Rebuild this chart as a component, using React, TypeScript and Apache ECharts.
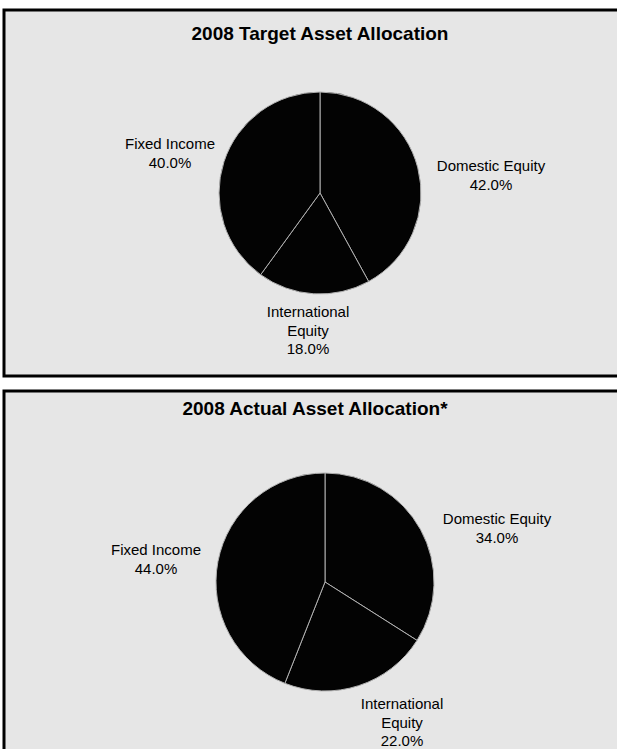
import React, { useEffect, useRef } from 'react';
import * as echarts from 'echarts';

const categories = ['Domestic Equity', 'International Equity', 'Fixed Income'];
const targetValues = [42.0, 18.0, 40.0];
const actualValues = [34.0, 22.0, 44.0];
const titles = ['2008 Target Asset Allocation', '2008 Actual Asset Allocation*'];

const targetLabelPos = [[491, 175], [308, 330], [170, 153]];
const actualLabelPos = [[497, 528], [402, 722], [156, 559]];

const FONT = '"Liberation Sans", Arial, sans-serif';

function makeSeries(values: number[], center: number[], radius: number, pos: number[][]) {
  return {
    type: 'pie',
    center,
    radius,
    startAngle: 90,
    clockwise: true,
    silent: true,
    data: categories.map((c, i) => ({ name: c, value: values[i] })),
    itemStyle: { color: '#030303', borderColor: '#b0b0b0', borderWidth: 1 },
    label: {
      show: true,
      position: 'outside',
      formatter: (p: any) => p.name.replace('International ', 'International\n') + '\n' + Number(p.value).toFixed(1) + '%',
      fontFamily: FONT,
      fontSize: 15,
      color: '#000',
      lineHeight: 18.5,
      align: 'center',
    },
    labelLine: { show: false },
    labelLayout: (params: any) => {
      const p = pos[params.dataIndex];
      return { x: p[0], y: p[1], align: 'center', verticalAlign: 'middle' };
    },
  };
}

export default function App() {
  const ref = useRef<HTMLDivElement>(null);
  useEffect(() => {
    document.body.style.margin = '0';
    const chart = echarts.init(ref.current!, null, { renderer: 'svg' });
    chart.setOption({
      animation: false,
      backgroundColor: '#ffffff',
      graphic: [
        { type: 'rect', shape: { x: 4, y: 10, width: 640, height: 366 }, style: { fill: '#e6e6e6', stroke: '#000', lineWidth: 3 }, z: -10 },
        { type: 'rect', shape: { x: 4, y: 391, width: 640, height: 380 }, style: { fill: '#e6e6e6', stroke: '#000', lineWidth: 3 }, z: -10 },
        { type: 'text', x: 320, y: 33, style: { text: titles[0], font: `bold 19px ${FONT}`, fill: '#000', align: 'center', verticalAlign: 'middle' } },
        { type: 'text', x: 315, y: 408, style: { text: titles[1], font: `bold 19px ${FONT}`, fill: '#000', align: 'center', verticalAlign: 'middle' } },
      ],
      series: [
        makeSeries(targetValues, [320, 193], 101, targetLabelPos),
        makeSeries(actualValues, [325, 582], 109, actualLabelPos),
      ],
    });
    return () => chart.dispose();
  }, []);
  return <div ref={ref} style={{ width: 617, height: 749 }} />;
}
